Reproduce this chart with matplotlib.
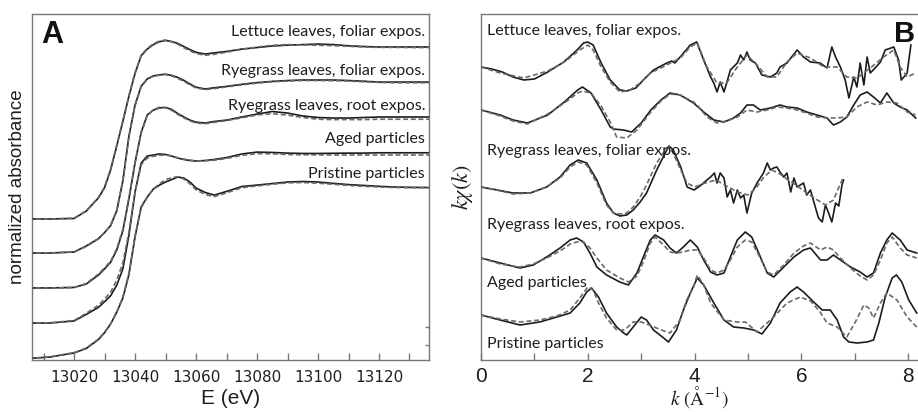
import matplotlib
matplotlib.use("Agg")
import matplotlib.pyplot as plt
from matplotlib.ticker import MultipleLocator

# ---------------- panel A : XANES (normalized absorbance, offset) ----------------
energy = [13005, 13012, 13020, 13024, 13028, 13030, 13032, 13034, 13036, 13038,
          13040, 13042, 13044, 13046, 13048, 13050, 13052, 13054, 13056, 13058,
          13060, 13063, 13066, 13070, 13075, 13080, 13085, 13090, 13095, 13100,
          13105, 13110, 13115, 13120, 13125, 13130, 13137]

lettuce_xanes = [0.820, 0.820, 0.823, 0.866, 0.943, 1.002, 1.106, 1.245, 1.388, 1.535,
                 1.667, 1.769, 1.808, 1.834, 1.851, 1.858, 1.852, 1.841, 1.823, 1.805,
                 1.789, 1.779, 1.786, 1.794, 1.808, 1.817, 1.826, 1.831, 1.834, 1.837,
                 1.834, 1.827, 1.823, 1.820, 1.820, 1.820, 1.820]
lettuce_xanes_fit = [0.818, 0.820, 0.825, 0.868, 0.946, 1.008, 1.112, 1.250, 1.392, 1.540,
                     1.672, 1.771, 1.812, 1.838, 1.855, 1.860, 1.850, 1.836, 1.816, 1.798,
                     1.782, 1.772, 1.778, 1.790, 1.806, 1.820, 1.830, 1.834, 1.832, 1.830,
                     1.828, 1.824, 1.820, 1.818, 1.818, 1.817, 1.817]

rye_fol_xanes = [0.622, 0.622, 0.628, 0.663, 0.706, 0.741, 0.782, 0.868, 1.041, 1.303,
                 1.484, 1.592, 1.635, 1.652, 1.658, 1.662, 1.655, 1.643, 1.626, 1.605,
                 1.586, 1.576, 1.583, 1.591, 1.603, 1.613, 1.620, 1.625, 1.628, 1.628,
                 1.628, 1.625, 1.621, 1.616, 1.616, 1.616, 1.616]
rye_fol_xanes_fit = [0.622, 0.623, 0.628, 0.660, 0.704, 0.740, 0.785, 0.872, 1.045, 1.300,
                     1.480, 1.590, 1.632, 1.650, 1.656, 1.660, 1.652, 1.638, 1.620, 1.600,
                     1.582, 1.572, 1.578, 1.588, 1.600, 1.610, 1.618, 1.622, 1.625, 1.625,
                     1.624, 1.622, 1.618, 1.614, 1.612, 1.612, 1.612]

rye_root_xanes = [0.419, 0.419, 0.422, 0.442, 0.494, 0.530, 0.569, 0.640, 0.751, 0.938,
                  1.147, 1.324, 1.425, 1.453, 1.466, 1.469, 1.457, 1.433, 1.413, 1.395,
                  1.383, 1.378, 1.387, 1.395, 1.413, 1.430, 1.445, 1.436, 1.419, 1.410,
                  1.407, 1.407, 1.410, 1.413, 1.413, 1.413, 1.413]
rye_root_xanes_fit = [0.419, 0.419, 0.421, 0.445, 0.500, 0.536, 0.575, 0.648, 0.760, 0.945,
                      1.150, 1.320, 1.420, 1.455, 1.470, 1.466, 1.452, 1.428, 1.408, 1.390,
                      1.378, 1.374, 1.382, 1.392, 1.408, 1.425, 1.432, 1.424, 1.410, 1.400,
                      1.398, 1.398, 1.398, 1.400, 1.400, 1.400, 1.400]

aged_xanes = [0.215, 0.215, 0.227, 0.265, 0.306, 0.339, 0.374, 0.435, 0.530, 0.727,
              0.977, 1.145, 1.186, 1.192, 1.198, 1.195, 1.186, 1.174, 1.166, 1.160,
              1.157, 1.160, 1.166, 1.177, 1.198, 1.209, 1.207, 1.203, 1.201, 1.201,
              1.202, 1.203, 1.203, 1.205, 1.205, 1.205, 1.205]
aged_xanes_fit = [0.215, 0.216, 0.230, 0.272, 0.318, 0.355, 0.395, 0.465, 0.565, 0.745,
                  0.975, 1.135, 1.175, 1.185, 1.190, 1.192, 1.186, 1.176, 1.168, 1.162,
                  1.158, 1.158, 1.162, 1.172, 1.190, 1.200, 1.199, 1.195, 1.193, 1.193,
                  1.192, 1.192, 1.192, 1.192, 1.192, 1.192, 1.192]

pristine_xanes = [0.009, 0.017, 0.041, 0.067, 0.119, 0.159, 0.210, 0.278, 0.361, 0.498,
                  0.717, 0.890, 0.948, 0.994, 1.017, 1.035, 1.049, 1.064, 1.058, 1.035,
                  1.000, 0.974, 0.959, 0.980, 1.009, 1.017, 1.026, 1.035, 1.038, 1.035,
                  1.027, 1.020, 1.015, 1.010, 1.006, 1.004, 1.003]
pristine_xanes_fit = [0.009, 0.018, 0.043, 0.070, 0.122, 0.162, 0.212, 0.280, 0.365, 0.505,
                      0.720, 0.885, 0.945, 0.995, 1.025, 1.048, 1.060, 1.066, 1.052, 1.025,
                      0.990, 0.962, 0.950, 0.972, 1.002, 1.012, 1.022, 1.030, 1.032, 1.028,
                      1.022, 1.015, 1.010, 1.006, 1.003, 1.002, 1.001]

xanes_names = ["Lettuce leaves, foliar expos.", "Ryegrass leaves, foliar expos.",
               "Ryegrass leaves, root expos.", "Aged particles", "Pristine particles"]

# ---------------- panel B : EXAFS k*chi(k), offset ----------------
lettuce_k = [0, 0.2, 0.4, 0.6, 0.8, 1.0, 1.25, 1.55, 1.8, 1.92, 2.0, 2.1, 2.25, 2.42, 2.6,
             2.73, 2.9, 3.04, 3.23, 3.48, 3.57, 3.63, 3.73, 3.92, 4.04, 4.17, 4.3, 4.36,
             4.42, 4.48, 4.55, 4.6, 4.67, 4.8, 4.86, 4.92, 4.98, 5.04, 5.14, 5.26, 5.42,
             5.54, 5.6, 5.73, 5.92, 6.04, 6.17, 6.35, 6.48, 6.57, 6.64, 6.73, 6.82, 6.89,
             6.98, 7.04, 7.1, 7.17, 7.23, 7.29, 7.38, 7.48, 7.57, 7.73, 7.82, 7.87, 7.92,
             7.98, 8.05]
lettuce_chi = [2.93, 2.91, 2.88, 2.83, 2.80, 2.81, 2.88, 2.98, 3.10, 3.17, 3.18, 3.15, 2.97,
               2.80, 2.70, 2.69, 2.72, 2.80, 2.90, 2.97, 2.99, 2.97, 3.03, 3.15, 3.18, 3.00,
               2.83, 2.77, 2.68, 2.78, 2.68, 2.77, 2.90, 2.97, 3.05, 3.00, 3.08, 3.00, 2.97,
               2.85, 2.83, 2.87, 2.93, 2.97, 3.10, 3.03, 2.98, 2.97, 2.92, 3.13, 3.03, 2.93,
               2.80, 2.62, 2.83, 2.73, 2.97, 2.75, 3.03, 2.87, 2.92, 2.98, 3.10, 3.13, 3.00,
               2.80, 2.83, 2.87, 3.15]
lettuce_fit_k = [0, 0.36, 0.8, 1.25, 1.56, 1.85, 2.0, 2.1, 2.25, 2.42, 2.6, 2.79, 2.98, 3.17,
                 3.48, 3.73, 3.92, 4.05, 4.23, 4.42, 4.6, 4.8, 4.98, 5.17, 5.36, 5.54, 5.73,
                 5.92, 6.17, 6.42, 6.67, 6.85, 7.04, 7.29, 7.54, 7.73, 7.85, 7.98, 8.14]
lettuce_fit = [2.93, 2.87, 2.82, 2.89, 2.98, 3.10, 3.15, 3.10, 2.93, 2.78, 2.68, 2.70, 2.77,
               2.87, 2.95, 3.02, 3.13, 3.17, 2.93, 2.77, 2.77, 2.93, 3.05, 2.95, 2.83, 2.83,
               2.98, 3.07, 3.02, 2.93, 2.93, 2.83, 2.82, 2.92, 3.03, 3.10, 2.93, 2.83, 2.87]

rye_fol_k = [0, 0.36, 0.6, 0.87, 1.25, 1.56, 1.81, 1.9, 2.06, 2.25, 2.42, 2.48, 2.67, 2.82,
             3.0, 3.18, 3.37, 3.54, 3.73, 3.98, 4.17, 4.36, 4.55, 4.73, 4.86, 4.98, 5.1,
             5.23, 5.42, 5.6, 5.73, 5.92, 6.1, 6.29, 6.48, 6.6, 6.73, 6.85, 6.98, 7.1, 7.23,
             7.35, 7.48, 7.6, 7.73, 7.85, 7.98, 8.14]
rye_fol_chi = [2.50, 2.45, 2.40, 2.37, 2.45, 2.58, 2.70, 2.73, 2.67, 2.50, 2.33, 2.31, 2.30,
               2.28, 2.37, 2.50, 2.60, 2.67, 2.65, 2.57, 2.48, 2.40, 2.38, 2.42, 2.47, 2.55,
               2.55, 2.50, 2.52, 2.55, 2.53, 2.52, 2.48, 2.45, 2.42, 2.35, 2.38, 2.43, 2.55,
               2.65, 2.68, 2.63, 2.57, 2.67, 2.57, 2.53, 2.50, 2.42]
rye_fol_fit_k = [0, 0.36, 0.6, 0.87, 1.25, 1.56, 1.81, 1.9, 2.06, 2.25, 2.42, 2.54, 2.73, 2.92,
                 3.18, 3.37, 3.54, 3.73, 3.98, 4.05, 4.23, 4.42, 4.6, 4.8, 4.98, 5.17, 5.36,
                 5.54, 5.73, 5.92, 6.1, 6.29, 6.48, 6.67, 6.85, 7.04, 7.23, 7.42, 7.6, 7.79,
                 7.98, 8.14]
rye_fol_fit = [2.50, 2.44, 2.39, 2.36, 2.46, 2.57, 2.67, 2.69, 2.67, 2.54, 2.38, 2.23, 2.22,
               2.30, 2.48, 2.59, 2.66, 2.65, 2.58, 2.55, 2.43, 2.37, 2.39, 2.43, 2.50, 2.48,
               2.50, 2.53, 2.52, 2.50, 2.47, 2.43, 2.42, 2.42, 2.43, 2.53, 2.58, 2.55, 2.58,
               2.57, 2.48, 2.45]

rye_root_k = [0, 0.3, 0.6, 0.92, 1.23, 1.48, 1.67, 1.82, 1.98, 2.17, 2.35, 2.48, 2.6, 2.73,
              2.85, 2.98, 3.1, 3.29, 3.45, 3.52, 3.6, 3.74, 3.86, 3.99, 4.1, 4.23, 4.3, 4.37,
              4.42, 4.48, 4.55, 4.61, 4.67, 4.73, 4.8, 4.86, 4.92, 4.98, 5.07, 5.17, 5.29,
              5.36, 5.42, 5.48, 5.54, 5.6, 5.67, 5.73, 5.8, 5.86, 5.92, 6.04, 6.1, 6.17, 6.26,
              6.32, 6.39, 6.45, 6.51, 6.57, 6.64, 6.7, 6.76, 6.79]
rye_root_chi = [1.73, 1.70, 1.67, 1.67, 1.73, 1.83, 1.95, 2.00, 1.97, 1.80, 1.57, 1.47, 1.44,
                1.45, 1.50, 1.58, 1.67, 1.90, 2.07, 2.14, 2.10, 1.93, 1.73, 1.70, 1.74, 1.80,
                1.83, 1.87, 1.77, 1.87, 1.82, 1.63, 1.70, 1.57, 1.70, 1.62, 1.65, 1.47, 1.67,
                1.77, 1.87, 1.97, 1.90, 1.92, 1.93, 1.88, 1.83, 1.87, 1.68, 1.82, 1.73, 1.77,
                1.65, 1.70, 1.53, 1.42, 1.38, 1.55, 1.47, 1.38, 1.57, 1.54, 1.75, 1.80]
rye_root_fit_k = [0, 0.3, 0.6, 0.92, 1.23, 1.48, 1.67, 1.82, 1.98, 2.17, 2.35, 2.48, 2.6, 2.73,
                  2.85, 2.98, 3.1, 3.29, 3.45, 3.52, 3.6, 3.74, 3.86, 4.0, 4.2, 4.4, 4.6, 4.8,
                  5.0, 5.15, 5.3, 5.45, 5.6, 5.75, 5.9, 6.1, 6.3, 6.45, 6.6, 6.72, 6.78]
rye_root_fit = [1.73, 1.70, 1.66, 1.67, 1.73, 1.82, 1.93, 1.98, 1.95, 1.77, 1.55, 1.47, 1.46,
                1.47, 1.53, 1.63, 1.75, 1.97, 2.10, 2.13, 2.07, 1.90, 1.77, 1.73, 1.77, 1.80,
                1.74, 1.68, 1.65, 1.72, 1.83, 1.90, 1.86, 1.80, 1.75, 1.67, 1.60, 1.55, 1.60,
                1.75, 1.82]

aged_k = [0, 0.36, 0.73, 0.98, 1.23, 1.48, 1.67, 1.79, 1.92, 2.04, 2.17, 2.35, 2.6, 2.76, 2.92,
          3.04, 3.17, 3.26, 3.42, 3.54, 3.66, 3.79, 3.92, 4.05, 4.17, 4.3, 4.42, 4.55, 4.67,
          4.8, 4.95, 5.07, 5.2, 5.36, 5.48, 5.67, 5.86, 6.04, 6.17, 6.36, 6.48, 6.6, 6.73,
          6.92, 7.1, 7.23, 7.35, 7.48, 7.6, 7.7, 7.85, 7.98, 8.16]
aged_chi = [1.02, 0.97, 0.92, 0.95, 1.03, 1.12, 1.20, 1.22, 1.18, 1.07, 0.93, 0.85, 0.78, 0.75,
            0.87, 1.03, 1.20, 1.25, 1.20, 1.12, 1.07, 1.13, 1.20, 1.13, 1.00, 0.88, 0.85, 0.87,
            1.03, 1.20, 1.28, 1.23, 1.07, 0.87, 0.83, 0.93, 1.03, 1.10, 1.12, 1.00, 1.00, 1.05,
            1.00, 0.93, 0.88, 0.83, 0.87, 1.07, 1.20, 1.27, 1.20, 1.10, 1.07]
aged_fit = [1.02, 0.96, 0.93, 0.96, 1.02, 1.09, 1.16, 1.18, 1.18, 1.12, 1.02, 0.90, 0.82, 0.78,
            0.84, 0.98, 1.17, 1.23, 1.15, 1.08, 1.07, 1.08, 1.10, 1.10, 1.02, 0.90, 0.87, 0.90,
            1.00, 1.13, 1.20, 1.18, 1.05, 0.88, 0.85, 0.95, 1.07, 1.14, 1.17, 1.10, 1.13, 1.10,
            1.02, 0.92, 0.84, 0.80, 0.85, 1.00, 1.17, 1.23, 1.12, 1.05, 1.02]

pristine_k = [0, 0.36, 0.73, 1.1, 1.42, 1.67, 1.85, 1.98, 2.07, 2.2, 2.35, 2.54, 2.67, 2.73,
              2.85, 3.0, 3.1, 3.23, 3.42, 3.51, 3.66, 3.79, 3.92, 4.05, 4.17, 4.36, 4.55, 4.73,
              4.92, 5.11, 5.26, 5.42, 5.6, 5.79, 5.92, 6.04, 6.23, 6.39, 6.54, 6.67, 6.79, 6.89,
              7.04, 7.23, 7.35, 7.45, 7.57, 7.7, 7.78, 7.88, 8.01, 8.16]
pristine_chi = [0.45, 0.40, 0.35, 0.38, 0.43, 0.47, 0.57, 0.68, 0.72, 0.63, 0.47, 0.33, 0.27,
                0.25, 0.33, 0.43, 0.40, 0.30, 0.22, 0.18, 0.30, 0.50, 0.67, 0.82, 0.75, 0.57,
                0.40, 0.33, 0.32, 0.30, 0.26, 0.37, 0.57, 0.68, 0.73, 0.68, 0.58, 0.50, 0.50,
                0.40, 0.23, 0.18, 0.17, 0.18, 0.20, 0.37, 0.63, 0.82, 0.85, 0.78, 0.60, 0.47]
pristine_fit_k = [0, 0.36, 0.73, 1.1, 1.42, 1.67, 1.85, 2.0, 2.1, 2.2, 2.35, 2.54, 2.67, 2.73,
                  2.85, 3.0, 3.15, 3.38, 3.54, 3.73, 3.85, 3.98, 4.05, 4.17, 4.3, 4.55, 4.8,
                  4.95, 5.17, 5.48, 5.73, 5.98, 6.17, 6.35, 6.48, 6.67, 6.85, 7.01, 7.17, 7.26,
                  7.35, 7.48, 7.6, 7.79, 7.98, 8.16]
pristine_fit = [0.45, 0.41, 0.38, 0.40, 0.44, 0.50, 0.62, 0.73, 0.70, 0.57, 0.42, 0.30, 0.30,
                0.32, 0.38, 0.38, 0.35, 0.30, 0.27, 0.40, 0.60, 0.73, 0.85, 0.75, 0.57, 0.40,
                0.38, 0.38, 0.28, 0.43, 0.57, 0.63, 0.59, 0.48, 0.37, 0.33, 0.23, 0.38, 0.55,
                0.52, 0.42, 0.57, 0.67, 0.60, 0.43, 0.33]

W, H = 918, 412
LINE = "#1c1c1c"
FIT = "#6a6a6a"
SPINE = "#777777"
TXT = "#1e1e1e"


def fx(x):
    return x / W


def fy(y):
    return 1 - y / H


fig = plt.figure(figsize=(W / 100, H / 100), dpi=100)
axA = fig.add_axes([fx(32), fy(360), 397 / W, 346 / H])
axB = fig.add_axes([fx(481), fy(360), 437 / W, 346 / H])

# panel A curves
measured = [lettuce_xanes, rye_fol_xanes, rye_root_xanes, aged_xanes, pristine_xanes]
fitted = [lettuce_xanes_fit, rye_fol_xanes_fit, rye_root_xanes_fit, aged_xanes_fit, pristine_xanes_fit]
for m, f in zip(measured, fitted):
    axA.plot(energy, m, color=LINE, lw=1.2, zorder=3)
    axA.plot(energy, f, color=FIT, lw=1.2, dashes=(3, 1.6), zorder=4)

axA.set_xlim(13006.2, 13136.4)
axA.set_ylim(0, 2.012)
axA.xaxis.set_major_locator(MultipleLocator(20))
axA.xaxis.set_minor_locator(MultipleLocator(10))
axA.set_yticks([0.09, 0.19])
axA.tick_params(axis="x", which="both", direction="in", length=5, width=1, color=SPINE,
                pad=7, labelsize=11, labelcolor=TXT)
axA.tick_params(axis="y", direction="in", length=3, width=1, color=SPINE,
                left=False, right=True, labelleft=False)
for lab in axA.get_xticklabels():
    lab.set_family(["Liberation Sans Narrow", "DejaVu Sans"])
axA.set_xlabel("E (eV)", fontsize=15, family="Liberation Sans", color=TXT, labelpad=3)
axA.set_ylabel("normalized absorbance", fontsize=13.5, family="Liberation Sans",
               color=TXT, labelpad=4)

label_base_A = [36, 75, 110, 143, 178]
for name, yb in zip(xanes_names, label_base_A):
    fig.text(fx(425), fy(yb), name, ha="right", va="baseline", fontsize=11.5,
             family="Lato", color=TXT)
fig.text(fx(41), fy(43), "A", ha="left", va="baseline", fontsize=22,
         family="Liberation Sans", weight="bold", color="#111111")

# panel B curves
exafs = [(lettuce_k, lettuce_chi, lettuce_fit_k, lettuce_fit),
         (rye_fol_k, rye_fol_chi, rye_fol_fit_k, rye_fol_fit),
         (rye_root_k, rye_root_chi, rye_root_fit_k, rye_root_fit),
         (aged_k, aged_chi, aged_k, aged_fit),
         (pristine_k, pristine_chi, pristine_fit_k, pristine_fit)]
for k, chi, kf, fit in exafs:
    axB.plot(k, chi, color=LINE, lw=1.2, zorder=3)
    axB.plot(kf, fit, color=FIT, lw=1.2, dashes=(3, 1.6), zorder=4)

axB.set_xlim(0, 437 / 53.4)
axB.set_ylim(0, 3.46)
axB.xaxis.set_major_locator(MultipleLocator(2))
axB.xaxis.set_minor_locator(MultipleLocator(1))
axB.set_yticks([])
axB.tick_params(axis="x", which="both", direction="in", length=5, width=1, color=SPINE,
                pad=5, labelsize=15, labelcolor=TXT)
for lab in axB.get_xticklabels():
    lab.set_family("Liberation Sans")
axB.spines["right"].set_visible(False)
axB.set_xlabel(r"$k\ (\mathrm{\AA}^{-1})$", fontsize=14, math_fontfamily="stix",
               color=TXT, labelpad=-1)
axB.set_ylabel(r"$k\chi(k)$", fontsize=16, math_fontfamily="stix", color=TXT, labelpad=4)

exafs_labels = [("Lettuce leaves, foliar expos.", 35), ("Ryegrass leaves, foliar expos.", 155),
                ("Ryegrass leaves, root expos.", 229), ("Aged particles", 287),
                ("Pristine particles", 348)]
for name, yb in exafs_labels:
    fig.text(fx(487), fy(yb), name, ha="left", va="baseline", fontsize=11.5,
             family="Lato", color=TXT)
fig.text(fx(894), fy(42), "B", ha="left", va="baseline", fontsize=21,
         family="Liberation Sans", weight="bold", color="#111111")

for ax in (axA, axB):
    for sp in ax.spines.values():
        sp.set_color(SPINE)
        sp.set_linewidth(1.0)

fig.savefig("out.png", dpi=100)
